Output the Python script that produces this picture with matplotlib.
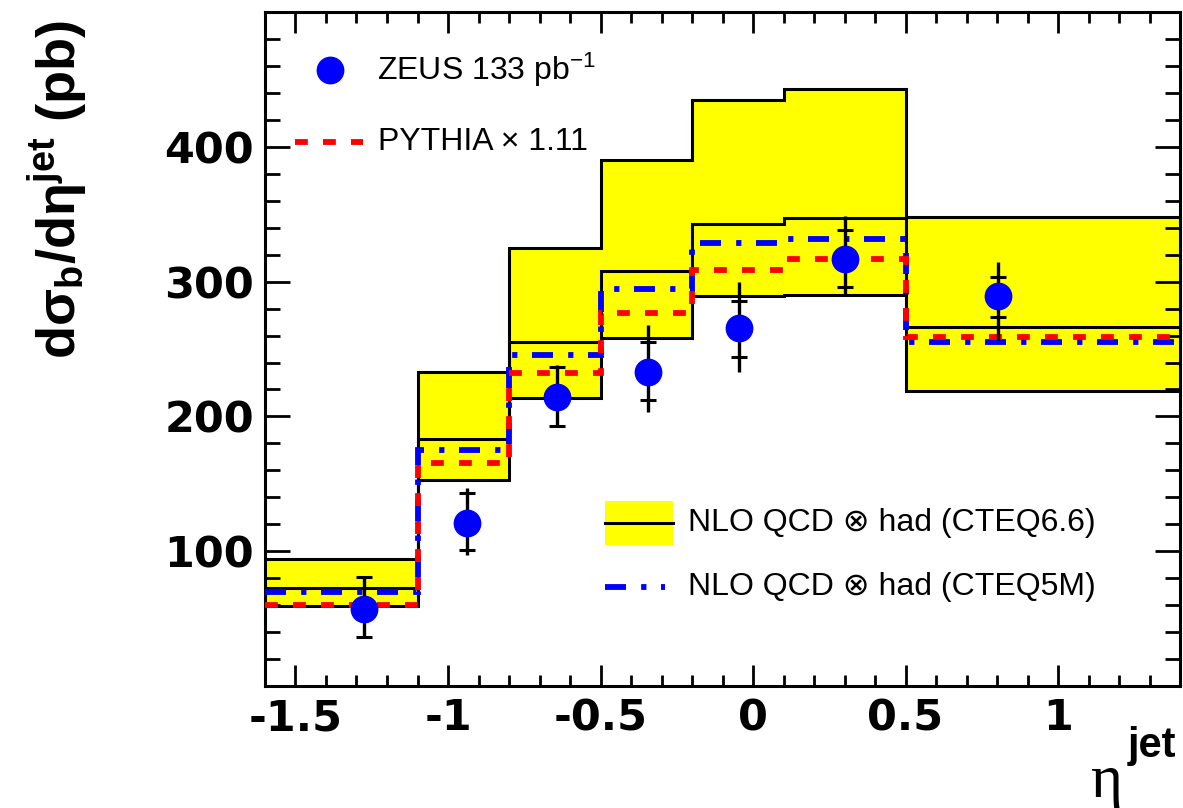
import numpy as np
import matplotlib
matplotlib.use('Agg')
import matplotlib.pyplot as plt
from matplotlib.patches import Rectangle
from matplotlib.ticker import MultipleLocator

plt.rcParams['mathtext.fontset'] = 'custom'
plt.rcParams['mathtext.rm'] = 'Liberation Sans'
plt.rcParams['mathtext.it'] = 'Liberation Sans:italic'
plt.rcParams['mathtext.bf'] = 'Liberation Sans:bold'

# bin edges in eta^jet
edges = np.array([-1.6, -1.1, -0.8, -0.5, -0.2, 0.1, 0.5, 1.4])

# NLO QCD x had (CTEQ6.6) band: upper, central, lower
nlo_up = np.array([94, 233, 325, 390, 435, 443, 348])
nlo_cen = np.array([73, 183, 255, 308, 343, 347, 266])
nlo_dn = np.array([59, 153, 214, 258, 289, 290, 219])

# NLO QCD x had (CTEQ5M) and PYTHIA x 1.11
nlo_cteq5m = np.array([70, 175, 245.5, 294.5, 329, 332, 255])
pythia = np.array([60, 165.5, 232, 277, 309, 316.5, 259])

# ZEUS data
eta_pts = np.array([-1.275, -0.938, -0.644, -0.344, -0.046, 0.302, 0.803])
xsec = np.array([57, 121, 214.5, 233, 265.5, 317, 289])
stat_up = np.array([24, 22, 22.5, 22.5, 20.5, 21, 14.5])
stat_dn = np.array([21, 20, 21.5, 21, 21.5, 21, 15])
tot_up = np.array([24, 26, 23.5, 35, 34.5, 32, 25.5])
tot_dn = np.array([21.5, 24, 22.5, 29.5, 32.5, 27, 32.5])

x_ticks = [-1.5, -1, -0.5, 0, 0.5, 1]
x_ticklabels = ['-1.5', '-1', '-0.5', '0', '0.5', '1']
y_ticks = [100, 200, 300, 400]

red_dash = (0, (2.2, 2.6))
blue_dashdot = (0, (3.6, 2.6, 0.9, 2.5))

fig = plt.figure(figsize=(11.83, 8.08), dpi=100)
ax = fig.add_axes([0.224, 0.151, 0.7735, 0.834])

ax.stairs(nlo_up, edges, baseline=nlo_dn, fill=True, color='#ffff00', zorder=1)
for h in (nlo_up, nlo_cen, nlo_dn):
    ax.stairs(h, edges, baseline=None, color='black', linewidth=2.2, zorder=2)
ax.stairs(nlo_cteq5m, edges, baseline=None, color='blue', linewidth=4.2,
          linestyle=blue_dashdot, zorder=3)
ax.stairs(pythia, edges, baseline=None, color='red', linewidth=4.2,
          linestyle=red_dash, zorder=4)

ax.errorbar(eta_pts, xsec, yerr=[tot_dn, tot_up], fmt='none', ecolor='black',
            elinewidth=2.4, capsize=0, zorder=5)
ax.plot(eta_pts, xsec + stat_up, '_', color='black', ms=11, mew=2.2, zorder=5)
ax.plot(eta_pts, xsec - stat_dn, '_', color='black', ms=11, mew=2.2, zorder=5)
ax.plot(eta_pts, xsec, 'o', color='blue', ms=19, mec='blue', zorder=6)

ax.set_xlim(-1.6, 1.4)
ax.set_ylim(0, 500)
ax.set_xticks(x_ticks)
ax.set_xticklabels(x_ticklabels)
ax.set_yticks(y_ticks)
ax.xaxis.set_minor_locator(MultipleLocator(0.1))
ax.yaxis.set_minor_locator(MultipleLocator(20))
ax.tick_params(which='both', direction='in', top=True, right=True, width=2)
ax.tick_params(axis='x', which='major', length=15, pad=8)
ax.tick_params(axis='x', which='minor', length=8)
ax.tick_params(axis='y', which='major', length=18, pad=8)
ax.tick_params(axis='y', which='minor', length=10.5)
for lab in ax.get_xticklabels() + ax.get_yticklabels():
    lab.set_fontfamily('DejaVu Sans')
    lab.set_fontweight('bold')
    lab.set_fontsize(31)
for s in ax.spines.values():
    s.set_linewidth(2.2)

# legends drawn by hand
ax.plot([0.071], [0.914], 'o', color='blue', ms=19, transform=ax.transAxes, clip_on=False)
ax.text(0.122, 0.914, 'ZEUS 133 pb$^{-1}$', transform=ax.transAxes, fontsize=23,
        family='Liberation Sans', va='center', ha='left')
ax.plot([0.033, 0.107], [0.807, 0.807], color='red', lw=4.2, linestyle=red_dash,
        transform=ax.transAxes, clip_on=False)
ax.text(0.1235, 0.807, 'PYTHIA \u00d7 1.11', transform=ax.transAxes, fontsize=23,
        family='Liberation Sans', va='center', ha='left')

ax.add_patch(Rectangle((0.3716, 0.2092), 0.0743, 0.0653, transform=ax.transAxes,
                       facecolor='#ffff00', edgecolor='none', zorder=7))
ax.plot([0.3716, 0.4459], [0.2418, 0.2418], color='black', lw=2.2,
        transform=ax.transAxes, zorder=8)
ax.text(0.4623, 0.2418, 'NLO QCD \u2297 had (CTEQ6.6)', transform=ax.transAxes,
        fontsize=23, family=['Liberation Sans', 'DejaVu Sans'], va='center', ha='left')
ax.plot([0.3716, 0.4372], [0.1469, 0.1469], color='blue', lw=4.2,
        linestyle=blue_dashdot, transform=ax.transAxes)
ax.text(0.4623, 0.1469, 'NLO QCD \u2297 had (CTEQ5M)', transform=ax.transAxes,
        fontsize=23, family=['Liberation Sans', 'DejaVu Sans'], va='center', ha='left')

# axis titles
fig.text(0.049, 0.765, 'd\u03c3$_\\mathbf{b}$/d\u03b7$^\\mathbf{jet}$ (pb)', rotation=90,
         fontsize=39, fontweight='bold', family='Liberation Sans', ha='center', va='center')
fig.text(0.9214, 0.0136, '\u03b7', fontsize=44, family='Liberation Serif',
         ha='left', va='baseline')
fig.text(0.9535, 0.063, 'jet', fontsize=30, fontweight='bold', family='Liberation Sans',
         ha='left', va='baseline')

fig.savefig('out.png', dpi=100)
